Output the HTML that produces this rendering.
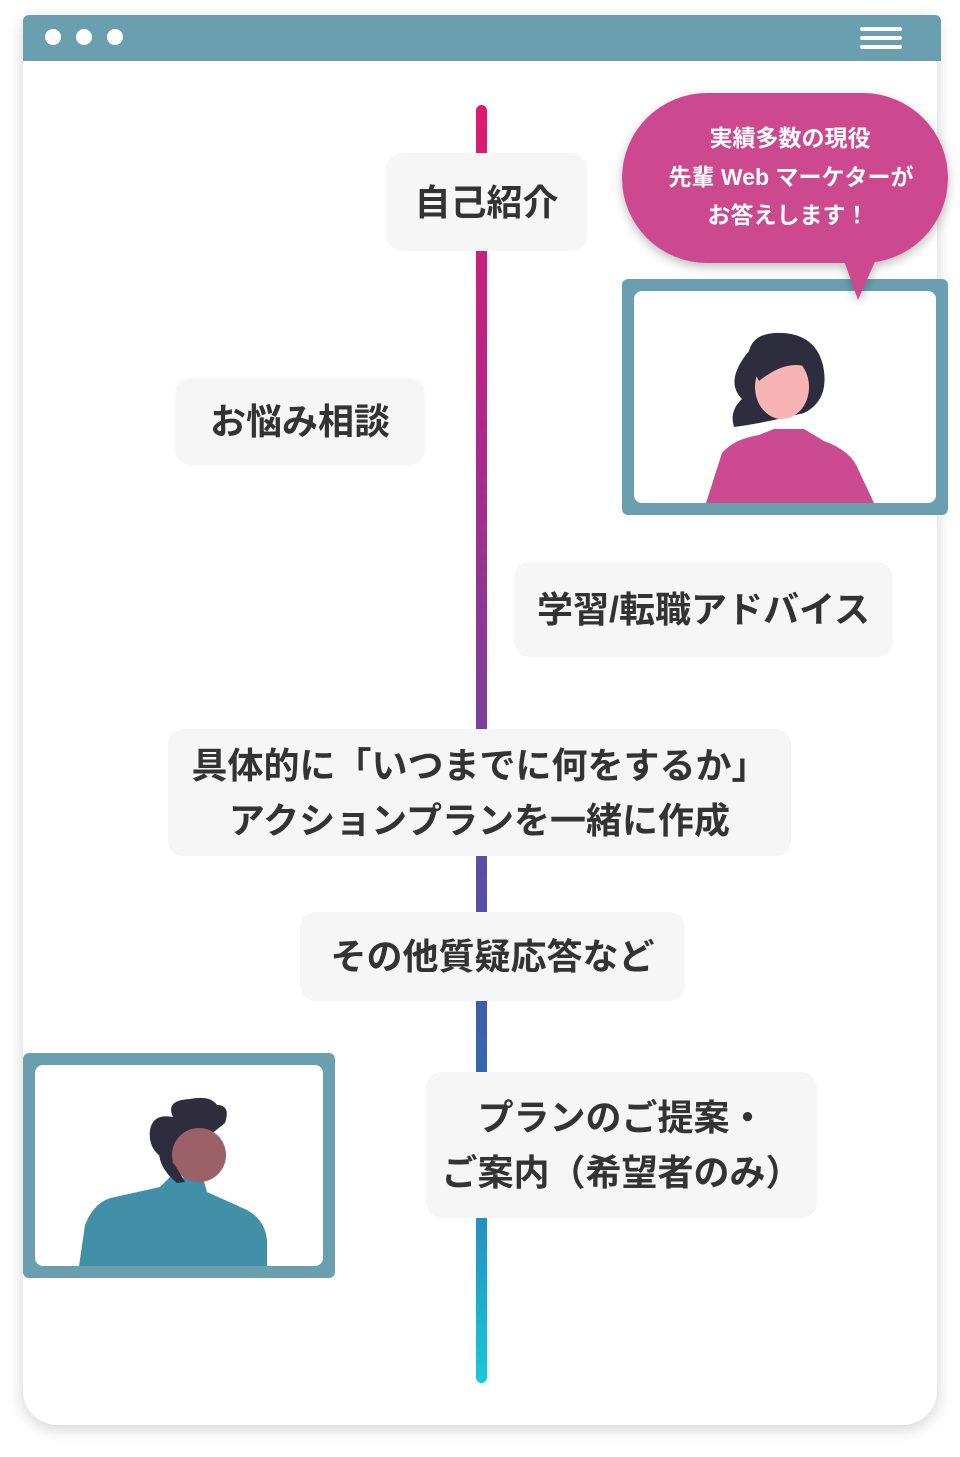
<!DOCTYPE html>
<html><head><meta charset="utf-8"><style>
body{margin:0;width:960px;height:1457px;background:#fff;position:relative;overflow:hidden;font-family:"Liberation Sans","Noto Sans CJK JP",sans-serif;}
.win{position:absolute;left:23px;top:15px;width:914px;height:1410px;background:#fff;border-radius:10px 10px 34px 34px;box-shadow:0 4px 16px rgba(0,0,0,.18);}
.bar{position:absolute;left:23px;top:15px;width:918px;height:46px;background:#6a9fb0;border-radius:6px 6px 0 0;}
.dot{position:absolute;top:29px;width:16px;height:16px;border-radius:50%;background:#fff;}
.hb{position:absolute;left:860px;width:42px;height:4px;background:#fff;border-radius:2px;}
.line{position:absolute;left:476px;top:105px;width:11px;height:1278px;border-radius:6px;background:linear-gradient(#df1a70,#b0278a 25%,#7b409a 48%,#4658a8 68%,#2c70b2 80%,#16cad8);}
.box{position:absolute;background:#f6f6f6;border-radius:16px;display:flex;align-items:center;justify-content:center;text-align:center;font-weight:bold;color:#333;font-size:36px;line-height:55px;}
.frame{position:absolute;background:#6a9fb0;border-radius:6px;}
.frame .in{position:absolute;left:12px;top:12px;right:12px;bottom:12px;background:#fff;border-radius:8px;overflow:hidden;}
</style></head><body>
<div class="win"></div>
<div class="bar"></div>
<div class="dot" style="left:45px"></div><div class="dot" style="left:76px"></div><div class="dot" style="left:107px"></div>
<div class="hb" style="top:27px"></div><div class="hb" style="top:36px"></div><div class="hb" style="top:45px"></div>
<div class="line"></div>

<div class="box" style="left:386px;top:153px;width:201px;height:98px;font-size:36px">自己紹介</div>
<div class="box" style="left:175px;top:378px;width:250px;height:87px">お悩み相談</div>
<div class="box" style="left:514px;top:562px;width:379px;height:95px">学習/転職アドバイス</div>
<div class="box" style="left:168px;top:729px;width:623px;height:127px">具体的に「いつまでに何をするか」<br>アクションプランを一緒に作成</div>
<div class="box" style="left:300px;top:912px;width:385px;height:89px">その他質疑応答など</div>
<div class="box" style="left:426px;top:1072px;width:391px;height:146px">プランのご提案・<br>ご案内（希望者のみ）</div>

<div class="frame" style="left:622px;top:279px;width:326px;height:236px"><div class="in">
<svg width="302" height="212" viewBox="0 0 302 212">
<path d="M72 212 L88 162 Q100 148 125 144 L140 138 L170 138 L190 150 Q218 160 225 180 L240 212 Z" fill="#cc4a90"/>
<path d="M115 60 Q120 40 150 42 Q185 45 190 80 Q194 110 170 122 Q130 132 100 136 Q95 120 108 108 Q90 90 115 60Z" fill="#2e2d3e"/>
<ellipse cx="148" cy="96" rx="27" ry="32" fill="#f8b4b4"/>
<path d="M115 60 Q125 42 155 45 Q180 50 170 75 Q150 70 125 90 Q118 78 115 60Z" fill="#2e2d3e"/>
</svg></div></div>

<svg style="position:absolute;left:610px;top:85px" width="350" height="220">
<defs><filter id="s"><feDropShadow dx="0" dy="4" stdDeviation="5" flood-opacity=".25"/></filter></defs>
<g filter="url(#s)" fill="#cc4a90">
<rect x="12" y="8" width="326" height="170" rx="85"/>
<path d="M232 170 L248 215 L268 170Z"/>
</g>
<g fill="#fff" font-weight="bold" font-size="23" text-anchor="middle" font-family="Liberation Sans,Noto Sans CJK JP,sans-serif">
<text x="180" y="61">実績多数の現役</text>
<text x="181" y="100">先輩 Web マーケターが</text>
<text x="178" y="138">お答えします！</text>
</g></svg>

<div class="frame" style="left:23px;top:1053px;width:312px;height:225px"><div class="in">
<svg width="288" height="201" viewBox="0 0 288 201">
<path d="M44 201 L50 160 Q60 135 80 132 L125 122 L135 112 L168 113 L172 127 L212 145 Q230 155 232 175 L232 201Z" fill="#4190a8"/>
<path d="M138 52 Q130 35 155 34 Q175 30 182 40 Q196 40 190 58 L140 98 Q112 90 115 65 Q118 48 138 52Z" fill="#2e2d3e"/>
<circle cx="164" cy="90" r="27" fill="#9c6068"/>
<path d="M138 80 Q130 90 140 100 L150 117 L142 118 Q120 100 125 80Z" fill="#2e2d3e"/>
</svg></div></div>
</body></html>
